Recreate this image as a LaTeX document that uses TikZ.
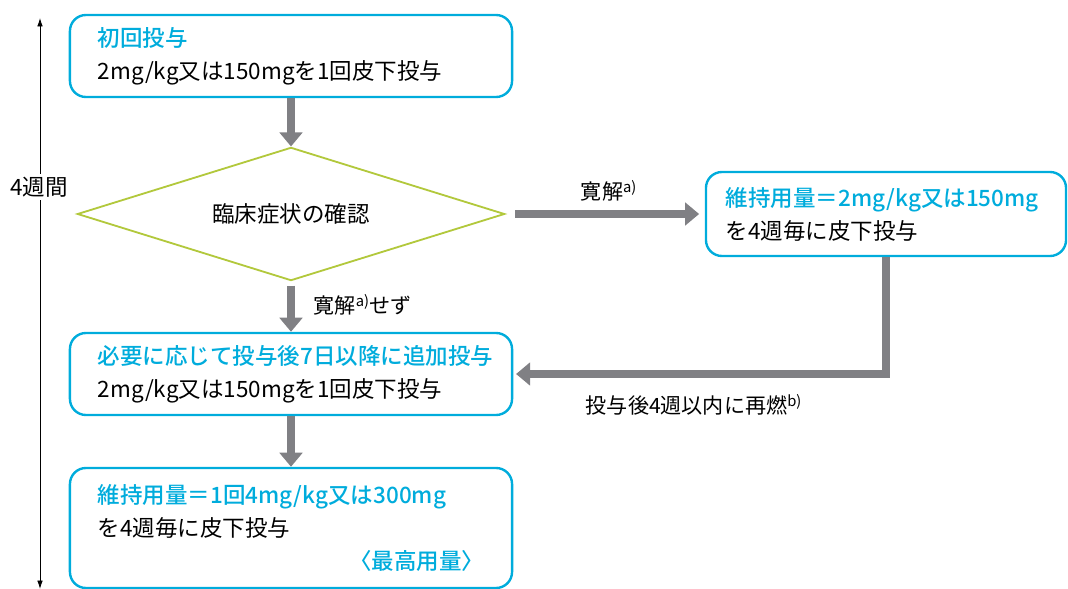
\documentclass[tikz,border=0pt]{standalone}
\usepackage{fontspec}
\setmainfont{Noto Sans CJK JP}[BoldFont={Noto Sans CJK JP Medium}]
\usetikzlibrary{arrows.meta,shapes.geometric,positioning}

\definecolor{doseblue}{RGB}{0,172,220}
\definecolor{checkgreen}{RGB}{178,200,60}
\definecolor{flowgray}{RGB}{128,128,132}
\newcommand{\dosehead}[1]{{\color{doseblue}\bfseries #1}}

\begin{document}
\begin{tikzpicture}[x=0.025cm, y=-0.025cm,
    dose/.style={draw=doseblue, line width=1.7pt, rectangle, rounded corners=0.4cm, minimum width=11.05cm, minimum height=2.05cm, inner xsep=0.7cm, text width=9.65cm, align=left, font=\fontsize{16}{23.4}\selectfont},
    check/.style={draw=checkgreen, line width=1.3pt, diamond, aspect=3.2, minimum width=10.68cm, minimum height=3.33cm, inner sep=0pt, font=\fontsize{16}{20}\selectfont},
    flow/.style={-{Triangle[length=10pt,width=16pt]}, line width=5.5pt, flowgray},
    note/.style={font=\fontsize{15}{18}\selectfont, inner sep=1pt}
]
\useasboundingbox (0,0) rectangle (1068,589);

% Initial dose
\node[dose] (first) at (291,56) {\dosehead{初回投与}\\2mg/kg又は150mgを1回皮下投与};

% Check
\node[check] (checkup) at (291,214) {臨床症状の確認};

% Remission branch
\node[dose, minimum width=9cm, text width=8cm, inner xsep=0.5cm, minimum height=2.1cm] (keep) at (886,214) {\dosehead{維持用量＝2mg/kg又は150mg}\\を4週毎に皮下投与};

% Additional dose
\node[dose] (extra) at (291,374) {\dosehead{必要に応じて投与後7日以降に追加投与}\\2mg/kg又は150mgを1回皮下投与};

% Max dose
\node[dose, minimum height=3cm] (maxdose) at (291,528) {\dosehead{維持用量＝1回4mg/kg又は300mg}\\を4週毎に皮下投与\\\hspace*{\fill}\dosehead{〈最高用量〉}\hspace*{0.3cm}};

% Arrows
\draw[flow] (first) -- (checkup);
\draw[flow, shorten <=3pt] (checkup) -- (extra);
\draw[flow, shorten <=7pt, shorten >=4pt] (checkup) -- (keep);
\draw[flow, shorten >=2pt] (keep) |- (extra);
\draw[flow] (extra) -- (maxdose);

% Labels
\node[note] (remit) at (609,191) {寛解\textsuperscript{a)}};
\node[note, anchor=west] (noremit) at (312,305) {寛解\textsuperscript{a)}せず};
\node[note] (relapse) at (694,405) {投与後4週以内に再燃\textsuperscript{b)}};

% Period
\coordinate (ptop) at (40,18);
\coordinate (pbot) at (40,589);
\draw[{Latex[length=6pt,width=4pt]}-{Latex[length=6pt,width=4pt]}, line width=0.6pt] (ptop) -- (pbot);
\node[fill=white, font=\fontsize{16}{19}\selectfont, inner sep=2pt] (period) at (39,187) {4週間};

\end{tikzpicture}
\end{document}
